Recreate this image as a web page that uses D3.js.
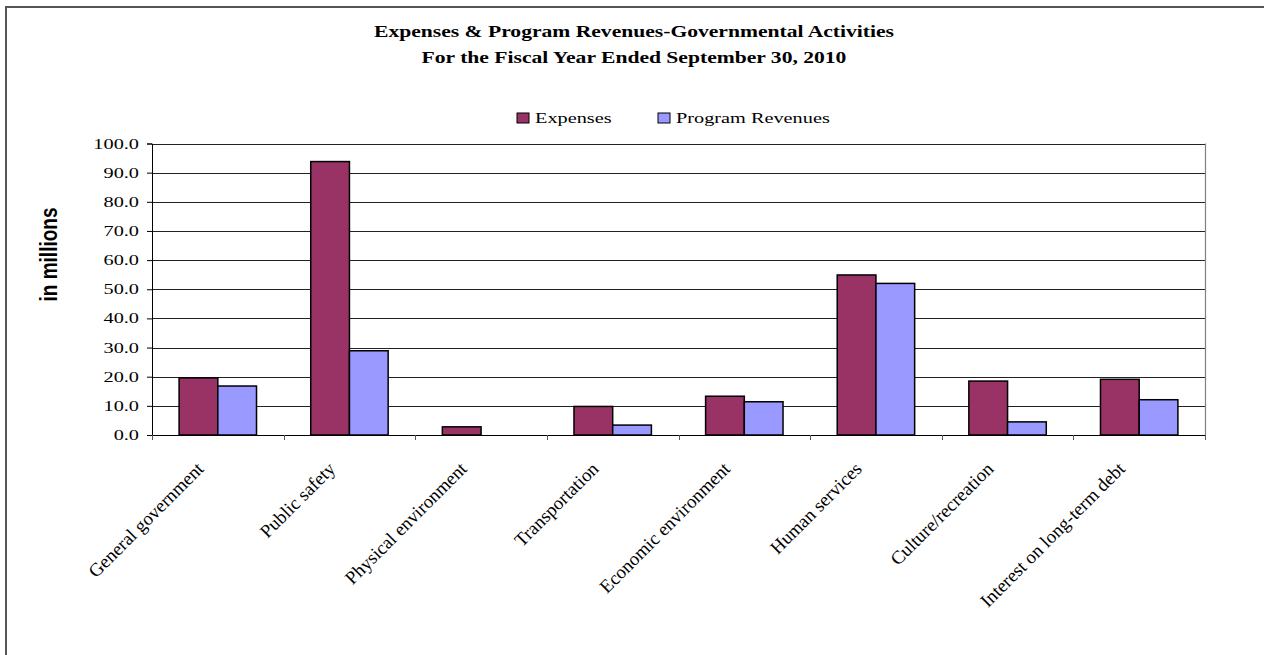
<!DOCTYPE html>
<html>
<head>
<meta charset="utf-8">
<script src="https://cdn.jsdelivr.net/npm/d3@7"></script>
<style>
  html, body { margin: 0; padding: 0; background: #fff; }
  svg { display: block; }
  .serif { font-family: "Liberation Serif", "Times New Roman", serif; fill: #000; }
  .sans { font-family: "Liberation Sans", Arial, sans-serif; fill: #000; }
</style>
</head>
<body>
<svg id="chart" width="1264" height="655"></svg>
<script>
// Governmental activities, fiscal year ended September 30, 2010 (in millions)
const categories = [
  "General government",
  "Public safety",
  "Physical environment",
  "Transportation",
  "Economic environment",
  "Human services",
  "Culture/recreation",
  "Interest on long-term debt"
];
const seriesNames = ["Expenses", "Program Revenues"];
const expenses        = [19.6, 93.8, 2.8, 9.8, 13.3, 54.9, 18.5, 19.1];
const programRevenues = [16.8, 28.9, 0.0, 3.4, 11.4, 52.0, 4.5, 12.1];
const yTicks = [0, 10, 20, 30, 40, 50, 60, 70, 80, 90, 100];
const titleLines = [
  "Expenses & Program Revenues-Governmental Activities",
  "For the Fiscal Year Ended September 30, 2010"
];
const yAxisTitle = "in millions";
const seriesColors = ["#993366", "#9999FF"];

const svg = d3.select("#chart");

// outer frame
svg.append("rect")
  .attr("x", 6).attr("y", 7)
  .attr("width", 1400).attr("height", 800)
  .attr("fill", "none").attr("stroke", "#555").attr("stroke-width", 2);

const plot = { left: 152, right: 1205, top: 143.5, bottom: 435 };

const x0 = d3.scaleBand().domain(categories).range([plot.left, plot.right]).padding(0);
const x1 = d3.scaleBand().domain(seriesNames).range([0, x0.bandwidth()])
  .paddingInner(0).paddingOuter(0.7);
const y = d3.scaleLinear().domain([0, 100]).range([plot.bottom, plot.top]);

// horizontal text widened by a factor sx
function wideText(parent, x, yy, sx, str, cls, size, anchor, weight) {
  return parent.append("text")
    .attr("class", cls)
    .attr("transform", `translate(${x},${yy}) scale(${sx},1)`)
    .attr("text-anchor", anchor)
    .attr("font-size", size)
    .attr("font-weight", weight || "normal")
    .text(str);
}

// title
titleLines.forEach((t, i) => {
  wideText(svg, 634, 37 + i * 26, 1.27, t, "serif", 17, "middle", "bold");
});

// legend
const legendX = [517, 658];
seriesNames.forEach((name, i) => {
  svg.append("rect")
    .attr("x", legendX[i]).attr("y", 113)
    .attr("width", 12).attr("height", 10)
    .attr("fill", seriesColors[i]).attr("stroke", "#000").attr("stroke-width", 1);
  wideText(svg, legendX[i] + 18, 122.5, 1.45, name, "serif", 14, "start");
});

// gridlines
svg.append("g")
  .selectAll("line")
  .data(yTicks)
  .join("line")
  .attr("x1", plot.left).attr("x2", plot.right)
  .attr("y1", d => Math.round(y(d)) + 0.5).attr("y2", d => Math.round(y(d)) + 0.5)
  .attr("stroke", "#222").attr("stroke-width", 1);

// plot area right edge
svg.append("line")
  .attr("x1", plot.right + 0.5).attr("x2", plot.right + 0.5)
  .attr("y1", y(100)).attr("y2", plot.bottom)
  .attr("stroke", "#808080").attr("stroke-width", 1.2);

// bars
const values = [expenses, programRevenues];
const groups = svg.append("g")
  .selectAll("g")
  .data(categories)
  .join("g")
  .attr("transform", d => `translate(${x0(d)},0)`);

groups.selectAll("rect")
  .data((d, i) => seriesNames.map((s, k) => ({ s, k, v: values[k][i] })))
  .join("rect")
  .filter(d => d.v > 0)
  .attr("x", d => x1(d.s))
  .attr("width", x1.bandwidth())
  .attr("y", d => y(d.v))
  .attr("height", d => y(0) - y(d.v))
  .attr("fill", d => seriesColors[d.k])
  .attr("stroke", "#000")
  .attr("stroke-width", 1.5);

// y axis
const yAxis = d3.axisLeft(y).tickValues(yTicks).tickSize(5).tickFormat(() => "");
const yg = svg.append("g").attr("transform", `translate(${plot.left},0)`).call(yAxis);
yg.select(".domain").attr("stroke", "#000");
yg.selectAll(".tick line").attr("stroke", "#000");
yTicks.forEach(t => {
  wideText(svg, 139, y(t) + 5, 1.45, d3.format(".1f")(t), "serif", 14, "end");
});

// x axis: ticks at category boundaries
const boundaries = categories.map(c => x0(c)).concat([plot.right]);
svg.append("line")
  .attr("x1", plot.left).attr("x2", plot.right)
  .attr("y1", plot.bottom + 0.5).attr("y2", plot.bottom + 0.5)
  .attr("stroke", "#000");
svg.append("g").selectAll("line")
  .data(boundaries)
  .join("line")
  .attr("x1", d => Math.round(d) + 0.5).attr("x2", d => Math.round(d) + 0.5)
  .attr("y1", plot.bottom).attr("y2", plot.bottom + 5)
  .attr("stroke", "#555");

// category labels at 45 degrees
categories.forEach(c => {
  const cx = x0(c) + x0.bandwidth() / 2;
  svg.append("text")
    .attr("class", "serif")
    .attr("transform", `translate(${cx - 13},470) rotate(-45)`)
    .attr("text-anchor", "end")
    .attr("font-size", 18.8)
    .text(c);
});

// y axis title
svg.append("text")
  .attr("class", "sans")
  .attr("transform", `translate(57,254.5) rotate(-90) scale(1,1.25)`)
  .attr("text-anchor", "middle")
  .attr("font-size", 19)
  .attr("font-weight", "bold")
  .text(yAxisTitle);
</script>
</body>
</html>
